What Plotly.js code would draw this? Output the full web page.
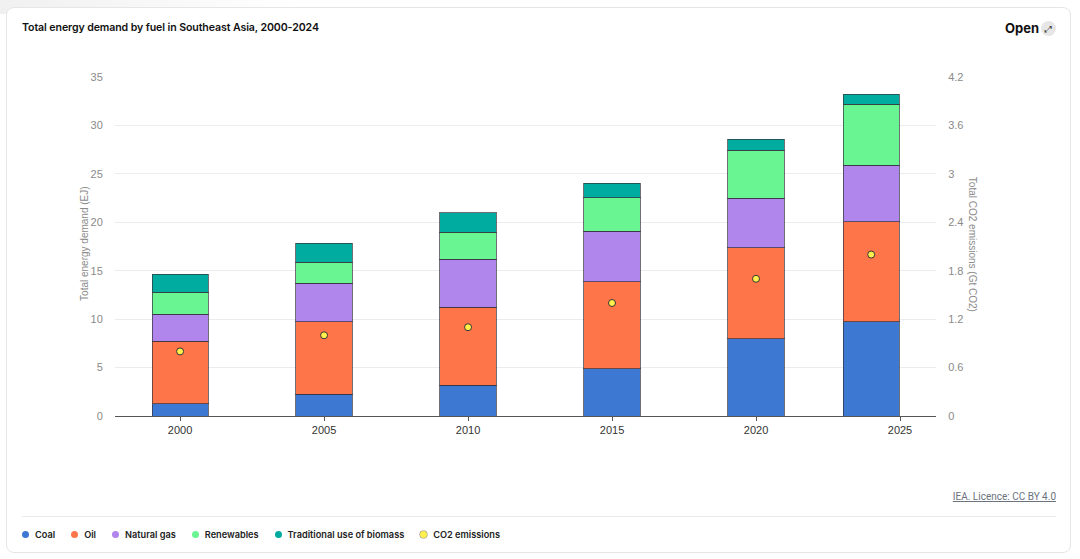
<!DOCTYPE html>
<html>
<head>
<meta charset="utf-8">
<script src="https://cdn.plot.ly/plotly-3.0.1.min.js"></script>
<style>
  html, body { margin:0; padding:0; background:#fff; width:1080px; height:559px; overflow:hidden; font-family: Inter, "Open Sans", sans-serif; }
  #shade { position:absolute; left:0; top:0; width:300px; height:14px; background:linear-gradient(90deg, rgba(0,0,0,0.06), rgba(0,0,0,0)); }
  #card { position:absolute; left:6px; top:7px; width:1065px; height:546px; border:1px solid #e6e6e6; border-radius:8px; background:#fff; box-sizing:border-box; }
  #chart { position:absolute; left:0; top:0; width:1080px; height:559px; }
  #title { position:absolute; left:22px; top:21px; font-size:10.6px; font-weight:600; color:#111; letter-spacing:-0.1px; }
  #open { position:absolute; left:1005px; top:20px; font-size:13px; font-weight:700; color:#111; }
  #openicon { position:absolute; left:1041px; top:21px; width:15px; height:15px; border-radius:50%; background:#e6e6e6; font-size:9px; line-height:15px; text-align:center; color:#333; }
  #lic { position:absolute; right:24px; top:491px; font-size:10px; color:#6b7280; text-decoration:underline; font-family:Roboto, sans-serif; }
  #sep { position:absolute; left:22px; top:516px; width:1034px; height:1px; background:#eaeaea; }
  #legend { position:absolute; left:22px; top:529px; display:flex; gap:16px; font-size:9.2px; font-weight:600; color:#222; }
  .li { display:flex; align-items:center; gap:6px; }
  .dot { width:7px; height:7px; border-radius:50%; display:inline-block; }
</style>
</head>
<body>
<div id="shade"></div>
<div id="card"></div>
<div id="chart"></div>
<div id="title">Total energy demand by fuel in Southeast Asia, 2000-2024</div>
<div id="open">Open</div>
<div id="openicon">&#x2922;</div>
<div id="lic">IEA. Licence: CC BY 4.0</div>
<div id="sep"></div>
<div id="legend"></div>
<script>
// Data (EJ and Gt CO2)
const years = [2000, 2005, 2010, 2015, 2020, 2024];
const coal = [1.24, 2.27, 3.20, 4.88, 7.98, 9.74];
const oil = [6.50, 7.47, 8.02, 8.99, 9.40, 10.32];
const naturalGas = [2.76, 3.96, 4.96, 5.20, 5.10, 5.82];
const renewables = [2.27, 2.20, 2.79, 3.47, 4.95, 6.33];
const biomass = [1.86, 1.93, 1.99, 1.48, 1.14, 1.03];
const co2 = [0.80, 1.00, 1.10, 1.40, 1.70, 2.00];
const seriesNames = ["Coal", "Oil", "Natural gas", "Renewables", "Traditional use of biomass", "CO2 emissions"];
const seriesColors = ["#3d78d3", "#fe754a", "#b085ec", "#69f591", "#00ab9f", "#fff04d"];
const leftTicks = [0, 5, 10, 15, 20, 25, 30, 35];
const rightTicks = [0, 0.6, 1.2, 1.8, 2.4, 3, 3.6, 4.2];
const xTicks = [2000, 2005, 2010, 2015, 2020, 2025];

const stacks = [coal, oil, naturalGas, renewables, biomass];
const traces = stacks.map((vals, i) => ({
  type: 'bar', x: years, y: vals, name: seriesNames[i], width: 1.95,
  marker: { color: seriesColors[i], line: { color: 'rgba(50,50,60,0.7)', width: 1 } },
  hoverinfo: 'skip'
}));
traces.push({
  type: 'scatter', mode: 'markers', x: years, y: co2, yaxis: 'y2', name: seriesNames[5],
  marker: { color: seriesColors[5], size: 7, line: { color: '#333', width: 1 } }, hoverinfo: 'skip'
});

const tickFont = { family: 'Liberation Sans, Arial, sans-serif', size: 11, color: '#8a8a8a' };
const layout = {
  width: 1080, height: 559,
  paper_bgcolor: 'rgba(0,0,0,0)', plot_bgcolor: 'rgba(0,0,0,0)',
  margin: { l: 115, r: 144, t: 77, b: 143 },
  barmode: 'stack', showlegend: false,
  xaxis: {
    range: [1997.74, 2026.25], tickvals: xTicks, ticktext: xTicks.map(String),
    showgrid: false, zeroline: false, showline: true, linecolor: '#555', linewidth: 1,
    ticks: 'outside', ticklen: 4, tickcolor: '#555',
    tickfont: { family: 'Liberation Sans, Arial, sans-serif', size: 11, color: '#333' }
  },
  yaxis: {
    range: [0, 35], tickvals: leftTicks, showgrid: true, gridcolor: '#ececec', gridwidth: 1,
    zeroline: false, ticks: 'outside', ticklen: 9, tickcolor: 'rgba(0,0,0,0)', tickfont: tickFont
  },
  yaxis2: {
    overlaying: 'y', side: 'right', range: [0, 4.2], tickvals: rightTicks, ticktext: rightTicks.map(String),
    showgrid: false, zeroline: false, ticks: 'outside', ticklen: 9, tickcolor: 'rgba(0,0,0,0)', tickfont: tickFont
  },
  annotations: [
    { text: 'Total energy demand (EJ)', xref: 'paper', yref: 'paper', x: -0.038, y: 0.51, textangle: -90,
      showarrow: false, xanchor: 'center', yanchor: 'middle', font: { family: 'Liberation Sans, Arial, sans-serif', size: 10, color: '#8a8a8a' } },
    { text: 'Total CO2 emissions (Gt CO2)', xref: 'paper', yref: 'paper', x: 1.0438, y: 0.505, textangle: 90,
      showarrow: false, xanchor: 'center', yanchor: 'middle', font: { family: 'Liberation Sans, Arial, sans-serif', size: 10, color: '#8a8a8a' } }
  ]
};
Plotly.newPlot('chart', traces, layout, { staticPlot: true, displayModeBar: false });

const leg = document.getElementById('legend');
seriesNames.forEach((n, i) => {
  const d = document.createElement('div'); d.className = 'li';
  const dot = document.createElement('span'); dot.className = 'dot'; dot.style.background = seriesColors[i];
  if (i === 5) dot.style.boxShadow = '0 0 0 0.5px #888';
  const t = document.createElement('span'); t.textContent = n;
  d.appendChild(dot); d.appendChild(t); leg.appendChild(d);
});
</script>
</body>
</html>
